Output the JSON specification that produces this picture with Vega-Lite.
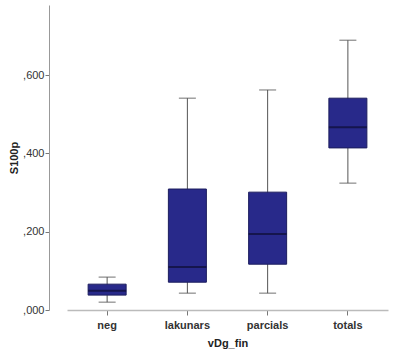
{
  "$schema": "https://vega.github.io/schema/vega-lite/v6.json",
  "width": 349,
  "height": 305,
  "autosize": {"type": "none"},
  "padding": {"left": 49, "top": 5, "right": 0, "bottom": 43},
  "background": "white",
  "config": {
    "view": {"stroke": null},
    "font": "Liberation Sans",
    "axis": {"grid": false, "domainColor": "#999999", "tickColor": "#777777", "labelColor": "#333333", "titleColor": "#222222", "labelFont": "Liberation Sans", "titleFont": "Liberation Sans"}
  },
  "data": {
    "values": [
      {"grp": "neg", "lo": 0.020, "q1": 0.038, "med": 0.049, "q3": 0.066, "hi": 0.084},
      {"grp": "lakunars", "lo": 0.043, "q1": 0.071, "med": 0.110, "q3": 0.309, "hi": 0.541},
      {"grp": "parcials", "lo": 0.043, "q1": 0.117, "med": 0.194, "q3": 0.301, "hi": 0.562},
      {"grp": "totals", "lo": 0.324, "q1": 0.414, "med": 0.467, "q3": 0.541, "hi": 0.689}
    ]
  },
  "encoding": {
    "x": {
      "field": "grp", "type": "nominal", "sort": null,
      "scale": {"range": [18, 339], "paddingInner": 0, "paddingOuter": 0},
      "axis": {"title": "vDg_fin", "labelAngle": 0, "labelFontSize": 11, "labelFontWeight": "bold", "titleFontSize": 11, "titleFontWeight": "bold", "tickSize": 5, "labelPadding": 4, "titlePadding": 7, "domainColor": "#bbbbbb", "domainWidth": 1.5}
    }
  },
  "layer": [
    {
      "mark": {"type": "rule", "color": "#555555", "strokeWidth": 1},
      "encoding": {
        "y": {"field": "lo", "type": "quantitative",
          "scale": {"domain": [0, 0.779], "nice": false, "zero": true},
          "axis": {"title": "S100p", "values": [0, 0.2, 0.4, 0.6], "labelExpr": "replace(format(datum.value, '.3f'), '0.', ',')", "labelFontSize": 11, "titleFontSize": 11, "titleFontWeight": "bold", "tickSize": 4, "labelPadding": 1, "titlePadding": 3}},
        "y2": {"field": "hi"}
      }
    },
    {
      "mark": {"type": "tick", "color": "#555555", "thickness": 1.2, "size": 17, "orient": "horizontal"},
      "encoding": {"y": {"field": "lo", "type": "quantitative"}}
    },
    {
      "mark": {"type": "tick", "color": "#555555", "thickness": 1.2, "size": 17, "orient": "horizontal"},
      "encoding": {"y": {"field": "hi", "type": "quantitative"}}
    },
    {
      "mark": {"type": "bar", "size": 38, "fill": "#28298a", "stroke": "#1c1d5e", "strokeWidth": 1},
      "encoding": {"y": {"field": "q1", "type": "quantitative"}, "y2": {"field": "q3"}}
    },
    {
      "mark": {"type": "tick", "color": "#0d0d33", "thickness": 2, "size": 38, "orient": "horizontal"},
      "encoding": {"y": {"field": "med", "type": "quantitative"}}
    }
  ]
}
